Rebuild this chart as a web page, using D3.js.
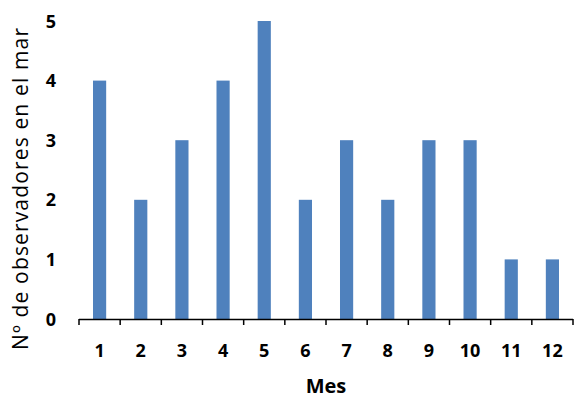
<!DOCTYPE html>
<html><head><meta charset="utf-8">
<script src="https://cdn.jsdelivr.net/npm/d3@7"></script>
<style>body{margin:0;background:#fff}svg{display:block}</style>
</head><body>
<svg id="c" width="576" height="400"></svg>
<script>
const months = ["1","2","3","4","5","6","7","8","9","10","11","12"];
const observers = [4,2,3,4,5,2,3,2,3,3,1,1];
const yTicks = [0,1,2,3,4,5];
const xTitle = "Mes";
const yTitle = "Nº de observadores en el mar";

const svg = d3.select("#c");
const mLeft = 79, mRight = 573, mTop = 21, mBottom = 319;
const x = d3.scaleBand().domain(months).range([mLeft, mRight]).paddingInner(0.68).paddingOuter(0.34);
const y = d3.scaleLinear().domain([0,5]).range([mBottom, mTop]);
const font = "'Open Sans', sans-serif";

svg.append("g").selectAll("rect").data(observers).join("rect")
  .attr("x", (d,i)=>x(months[i])).attr("width", x.bandwidth())
  .attr("y", d=>y(d)).attr("height", d=>y(0)-y(d))
  .attr("fill", "#4F81BD");

// x axis
const xb = d3.scaleLinear().domain([0,12]).range([mLeft,mRight]);
const gx = svg.append("g");
gx.append("line").attr("x1",mLeft).attr("x2",mRight).attr("y1",mBottom+0.5).attr("y2",mBottom+0.5).attr("stroke","#000").attr("stroke-width",1.5);
gx.selectAll("line.t").data(d3.range(13)).join("line").attr("class","t")
  .attr("x1",d=>xb(d)).attr("x2",d=>xb(d)).attr("y1",mBottom).attr("y2",mBottom+6)
  .attr("stroke","#000").attr("stroke-width",1.5);
gx.selectAll("text").data(months).join("text")
  .attr("x", d=>x(d)+x.bandwidth()/2).attr("y", 357)
  .attr("text-anchor","middle").attr("font-family",font).attr("font-weight","bold").attr("font-size",18)
  .text(d=>d);

// y labels
svg.append("g").selectAll("text").data(yTicks).join("text")
  .attr("x", 56).attr("y", d=>y(d)+6.5)
  .attr("text-anchor","end").attr("font-family",font).attr("font-weight","bold").attr("font-size",18)
  .text(d=>d);

svg.append("text").attr("x", 326).attr("y", 393).attr("text-anchor","middle")
  .attr("font-family",font).attr("font-weight","bold").attr("font-size",20).text(xTitle);

svg.append("text").attr("transform","translate(28,189) rotate(-90)").attr("text-anchor","middle")
  .attr("font-family",font).attr("font-size",21)
  .attr("textLength",322).attr("lengthAdjust","spacing").text(yTitle);
</script>
</body></html>
